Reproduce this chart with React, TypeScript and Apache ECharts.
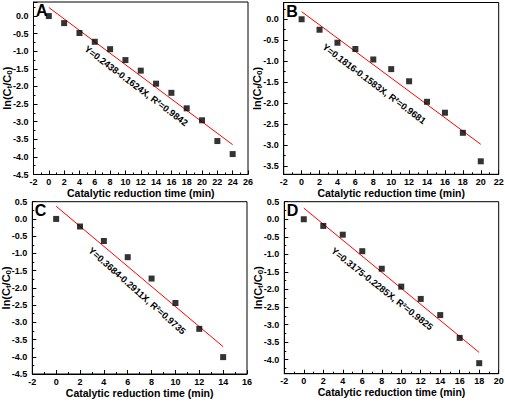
import React, { useEffect, useRef } from "react";
import * as echarts from "echarts";

// ---- data ----
const timesA = [0, 2, 4, 6, 8, 10, 12, 14, 16, 18, 20, 22, 24];
const valuesA = [0.0, -0.2, -0.48, -0.73, -0.94, -1.25, -1.55, -1.92, -2.18, -2.62, -2.96, -3.55, -3.92];
const fitA = [0.2438, -0.1624]; // intercept, slope
const labelA = "Y=0.2438-0.1624X, R\u00B2=0.9842";

const timesB = [0, 2, 4, 6, 8, 10, 12, 14, 16, 18, 20];
const valuesB = [0.0, -0.25, -0.56, -0.71, -0.96, -1.19, -1.48, -1.97, -2.23, -2.71, -3.39];
const fitB = [0.1816, -0.1583];
const labelB = "Y=0.1816-0.1583X, R\u00B2=0.9681";

const timesC = [0, 2, 4, 6, 8, 10, 12, 14];
const valuesC = [0.0, -0.22, -0.64, -1.11, -1.73, -2.44, -3.19, -4.01];
const fitC = [0.3684, -0.2911];
const labelC = "Y=0.3684-0.2911X, R\u00B2=0.9735";

const timesD = [0, 2, 4, 6, 8, 10, 12, 14, 16, 18];
const valuesD = [0.0, -0.19, -0.44, -0.91, -1.41, -1.92, -2.27, -2.73, -3.38, -4.1];
const fitD = [0.3175, -0.2285];
const labelD = "Y=0.3175-0.2285X, R\u00B2=0.9825";

const panelLetters = ["A", "B", "C", "D"];
const xRanges = [[-2, 26], [-2, 22], [-2, 16], [-2, 20]];
const yRanges = [[-4.5, 0.4], [-3.7, 0.4], [-4.5, 0.5], [-4.4, 0.5]];
const ySplits = [9, 8, 10, 9];
const xTitle = "Catalytic reduction time (min)";

const FONT = "'Liberation Sans', Arial, sans-serif";

// layout (pixels)
const grids = [
  { left: 33.5, top: 2, width: 214.5, height: 172.5 },
  { left: 283.7, top: 2.5, width: 215, height: 171.8 },
  { left: 32.3, top: 201.7, width: 214.7, height: 172.3 },
  { left: 284.3, top: 201.7, width: 214.4, height: 172 },
];
const annot = [
  { x: 136, y: 86, rot: -37 },
  { x: 374, y: 84, rot: -37 },
  { x: 137, y: 291, rot: -41.5 },
  { x: 382, y: 289, rot: -38.3 },
];

export default function App() {
  const ref = useRef<HTMLDivElement>(null);
  useEffect(() => {
    if (!ref.current) return;
    const chart = echarts.init(ref.current, null, { renderer: "svg" });
    const sets = [
      { t: timesA, v: valuesA, f: fitA, l: labelA },
      { t: timesB, v: valuesB, f: fitB, l: labelB },
      { t: timesC, v: valuesC, f: fitC, l: labelC },
      { t: timesD, v: valuesD, f: fitD, l: labelD },
    ];
    const tickLine = { color: "#000", width: 1 };
    const xAxis = sets.map((_, i) => ({
      type: "value",
      gridIndex: i,
      min: xRanges[i][0],
      max: xRanges[i][1],
      interval: 2,
      name: xTitle,
      nameLocation: "middle",
      nameGap: 13,
      nameMoveOverlap: false,
      nameTextStyle: { fontFamily: FONT, fontWeight: "bold", fontSize: 10.5, color: "#000" },
      axisLine: { show: true, onZero: false, lineStyle: tickLine },
      axisTick: { show: true, inside: true, length: 4, lineStyle: tickLine },
      minorTick: { show: true, splitNumber: 2, length: 2, lineStyle: tickLine },
      splitLine: { show: false },
      axisLabel: {
        margin: 3,
        fontFamily: FONT,
        fontWeight: "bold",
        fontSize: 9,
        color: "#000",
        formatter: (v: number) => String(v),
      },
    }));
    const yAxis = sets.map((_, i) => ({
      type: "value",
      gridIndex: i,
      min: yRanges[i][0],
      max: yRanges[i][1],
      splitNumber: ySplits[i],
      name: "{a|ln(C}{s|t}{a|/C}{s|0}{a|)}",
      nameLocation: "middle",
      nameGap: 20,
      nameMoveOverlap: false,
      nameTextStyle: {
        color: "#000",
        rich: {
          a: { fontFamily: FONT, fontWeight: "bold", fontSize: 11, color: "#000" },
          s: { fontFamily: FONT, fontWeight: "bold", fontSize: 8, color: "#000", verticalAlign: "bottom", padding: [5, 0, 0, 0] },
        },
      },
      axisLine: { show: true, onZero: false, lineStyle: tickLine },
      axisTick: { show: true, inside: true, length: 4, lineStyle: tickLine },
      minorTick: { show: true, splitNumber: 2, length: 2, lineStyle: tickLine },
      splitLine: { show: false },
      axisLabel: {
        margin: 5,
        fontFamily: FONT,
        fontWeight: "bold",
        fontSize: 9,
        color: "#000",
        showMinLabel: Math.abs((yRanges[i][0] * 2) - Math.round(yRanges[i][0] * 2)) < 1e-9,
        showMaxLabel: Math.abs((yRanges[i][1] * 2) - Math.round(yRanges[i][1] * 2)) < 1e-9,
        formatter: (v: number) => v.toFixed(1),
      },
    }));
    const series: any[] = [];
    sets.forEach((s, i) => {
      series.push({
        type: "scatter",
        xAxisIndex: i,
        yAxisIndex: i,
        symbol: "rect",
        symbolSize: 6,
        itemStyle: { color: "#000" },
        data: s.t.map((t, k) => [t, s.v[k]]),
        z: 3,
      });
      const x0 = s.t[0];
      const x1 = s.t[s.t.length - 1];
      series.push({
        type: "line",
        xAxisIndex: i,
        yAxisIndex: i,
        showSymbol: false,
        symbol: "none",
        lineStyle: { color: "#ff0000", width: 1 },
        data: [
          [x0, s.f[0] + s.f[1] * x0],
          [x1, s.f[0] + s.f[1] * x1],
        ],
        z: 2,
      });
    });
    const graphic: any[] = [];
    sets.forEach((s, i) => {
      const g = grids[i];
      graphic.push({
        type: "text",
        x: g.left + 2.5,
        y: g.top + 0.5,
        style: {
          text: panelLetters[i],
          fontFamily: FONT,
          fontWeight: "bold",
          fontSize: 16,
          fill: "#000",
          textAlign: "left",
          textVerticalAlign: "top",
        },
      });
      graphic.push({
        type: "text",
        x: annot[i].x,
        y: annot[i].y,
        rotation: (annot[i].rot * Math.PI) / 180,
        style: {
          text: s.l,
          fontFamily: FONT,
          fontWeight: "bold",
          fontSize: 9.3,
          fill: "#000",
          textAlign: "center",
          textVerticalAlign: "middle",
        },
      });
    });
    chart.setOption({
      animation: false,
      backgroundColor: "#fff",
      grid: grids.map((g) => ({
        ...g,
        show: true,
        borderColor: "#000",
        borderWidth: 1,
        backgroundColor: "transparent",
        containLabel: false,
        outerBoundsMode: "none",
      })),
      xAxis,
      yAxis,
      series,
      graphic,
    } as any);
    return () => chart.dispose();
  }, []);
  return (
    <div
      ref={ref}
      style={{ position: "fixed", left: 0, top: 0, width: 505, height: 402, background: "#fff" }}
    />
  );
}
